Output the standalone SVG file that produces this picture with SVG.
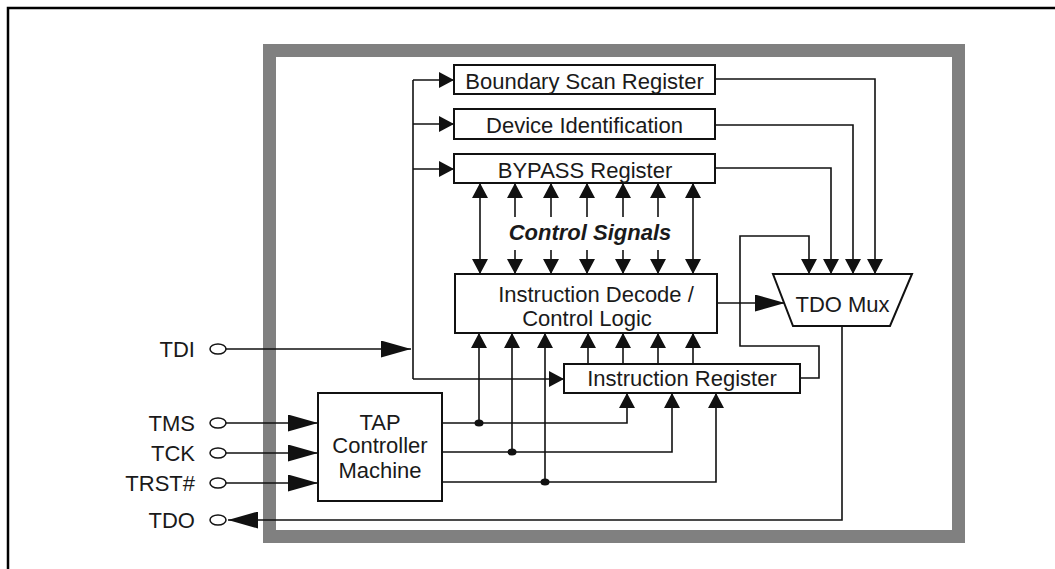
<svg xmlns="http://www.w3.org/2000/svg" width="1055" height="569" viewBox="0 0 1055 569">
<style>
text{font-family:"Liberation Sans",Arial,sans-serif;font-size:22px;fill:#1a1a1a}
.box{fill:#fff;stroke:#111;stroke-width:2}
.w{fill:none;stroke:#111;stroke-width:1.6}
.pin{fill:#fff;stroke:#111;stroke-width:1.5}
.dot{fill:#111}
</style>
<defs>
<marker id="sm" markerUnits="userSpaceOnUse" viewBox="0 0 15 16" markerWidth="15" markerHeight="16" refX="15" refY="8" orient="auto-start-reverse"><path d="M0,0 L15,8 L0,16 z" fill="#111"/></marker>
<marker id="lg" markerUnits="userSpaceOnUse" viewBox="0 0 30 17" markerWidth="30" markerHeight="17" refX="30" refY="8.5" orient="auto"><path d="M0,0 L30,8.5 L0,17 z" fill="#111"/></marker>
</defs>
<rect width="1055" height="569" fill="#fff"/>
<rect x="8" y="8" width="1060" height="580" fill="none" stroke="#000" stroke-width="2.5"/>
<rect x="269.5" y="50.5" width="689" height="486" fill="none" stroke="#808080" stroke-width="13"/>

<g id="connectors">
<!-- left bus -->
<path class="w" d="M413,80 V379"/>
<path class="w" d="M413,80 H454" marker-end="url(#sm)"/>
<path class="w" d="M413,124 H454" marker-end="url(#sm)"/>
<path class="w" d="M413,169 H454" marker-end="url(#sm)"/>
<path class="w" d="M413,379 H564" marker-end="url(#sm)"/>
<!-- register outputs to mux -->
<path class="w" d="M715,79 H875 V274" marker-end="url(#sm)"/>
<path class="w" d="M715,125 H853 V274" marker-end="url(#sm)"/>
<path class="w" d="M715,168 H831 V274" marker-end="url(#sm)"/>
<path class="w" d="M800,378 H819 V346 H740 V236 H809 V274" marker-end="url(#sm)"/>
<!-- decode to mux -->
<path class="w" d="M717,303 H785" marker-end="url(#lg)"/>
<!-- mux output to TDO -->
<path class="w" d="M842,326 V520 H228" marker-end="url(#lg)"/>
<!-- control signals -->
<path class="w" d="M480,183 V274" marker-start="url(#sm)" marker-end="url(#sm)"/>
<path class="w" d="M693,183 V274" marker-start="url(#sm)" marker-end="url(#sm)"/>
<path class="w" d="M515,217 V183" marker-end="url(#sm)"/>
<path class="w" d="M551,217 V183" marker-end="url(#sm)"/>
<path class="w" d="M587,217 V183" marker-end="url(#sm)"/>
<path class="w" d="M623,217 V183" marker-end="url(#sm)"/>
<path class="w" d="M658,217 V183" marker-end="url(#sm)"/>
<path class="w" d="M515,250 V274" marker-end="url(#sm)"/>
<path class="w" d="M551,250 V274" marker-end="url(#sm)"/>
<path class="w" d="M587,250 V274" marker-end="url(#sm)"/>
<path class="w" d="M623,250 V274" marker-end="url(#sm)"/>
<path class="w" d="M658,250 V274" marker-end="url(#sm)"/>
<!-- IR to decode -->
<path class="w" d="M588,364 V333" marker-end="url(#sm)"/>
<path class="w" d="M623,364 V333" marker-end="url(#sm)"/>
<path class="w" d="M658,364 V333" marker-end="url(#sm)"/>
<path class="w" d="M693,364 V333" marker-end="url(#sm)"/>
<!-- TAP outputs -->
<path class="w" d="M479,423 V333" marker-end="url(#sm)"/>
<path class="w" d="M512,452 V333" marker-end="url(#sm)"/>
<path class="w" d="M545,482 V333" marker-end="url(#sm)"/>
<path class="w" d="M442,423 H627 V393" marker-end="url(#sm)"/>
<path class="w" d="M442,452 H672 V393" marker-end="url(#sm)"/>
<path class="w" d="M442,482 H716 V393" marker-end="url(#sm)"/>
<ellipse class="dot" cx="479" cy="423" rx="4.5" ry="3.5"/>
<ellipse class="dot" cx="512" cy="452" rx="4.5" ry="3.5"/>
<ellipse class="dot" cx="545" cy="482" rx="4.5" ry="3.5"/>
<!-- pin inputs -->
<path class="w" d="M226,349 H411" marker-end="url(#lg)"/>
<path class="w" d="M226,423 H318" marker-end="url(#lg)"/>
<path class="w" d="M226,453 H318" marker-end="url(#lg)"/>
<path class="w" d="M226,483 H318" marker-end="url(#lg)"/>
</g>

<g id="bsr"><rect class="box" x="454" y="65" width="261" height="29"/><text x="584.5" y="89" text-anchor="middle">Boundary Scan Register</text></g>
<g id="devid"><rect class="box" x="454" y="109" width="261" height="30"/><text x="584.5" y="133" text-anchor="middle">Device Identification</text></g>
<g id="bypass"><rect class="box" x="454" y="154" width="261" height="29"/><text x="585" y="178" text-anchor="middle">BYPASS Register</text></g>
<g id="ctrl-label"><text x="590" y="240" text-anchor="middle" font-weight="bold" font-style="italic">Control Signals</text></g>
<g id="decode"><rect class="box" x="455" y="274" width="262" height="59"/><text x="596" y="302" text-anchor="middle">Instruction Decode /</text><text x="587" y="326" text-anchor="middle">Control Logic</text></g>
<g id="ir"><rect class="box" x="564" y="364" width="236" height="29"/><text x="682" y="386" text-anchor="middle">Instruction Register</text></g>
<g id="tap"><rect class="box" x="318" y="393" width="124" height="108"/><text x="380" y="430" text-anchor="middle">TAP</text><text x="380" y="453" text-anchor="middle">Controller</text><text x="380" y="478" text-anchor="middle">Machine</text></g>
<g id="mux"><polygon class="box" points="773,274 912,274 890,326 793,326"/><text x="842.5" y="312" text-anchor="middle">TDO Mux</text></g>

<g id="pin-tdi"><ellipse class="pin" cx="218" cy="349" rx="8" ry="5"/><text x="195" y="357" text-anchor="end">TDI</text></g>
<g id="pin-tms"><ellipse class="pin" cx="218" cy="423" rx="8" ry="5"/><text x="195" y="431" text-anchor="end">TMS</text></g>
<g id="pin-tck"><ellipse class="pin" cx="218" cy="453" rx="8" ry="5"/><text x="195" y="461" text-anchor="end">TCK</text></g>
<g id="pin-trst"><ellipse class="pin" cx="218" cy="483" rx="8" ry="5"/><text x="195" y="491" text-anchor="end">TRST#</text></g>
<g id="pin-tdo"><ellipse class="pin" cx="218" cy="520" rx="8" ry="5"/><text x="195" y="528" text-anchor="end">TDO</text></g>
</svg>
